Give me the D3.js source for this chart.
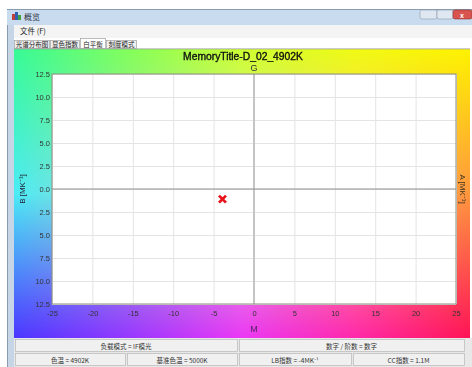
<!DOCTYPE html>
<html><head><meta charset="utf-8">
<script src="https://cdn.jsdelivr.net/npm/d3@7"></script>
<style>
html,body{margin:0;padding:0;background:#fff;overflow:hidden}
#wrap{position:relative;width:472px;height:367px}
canvas,svg{position:absolute;left:0;top:0}
</style></head><body>
<div id="wrap"><canvas id="bg" width="472" height="367"></canvas><svg id="chart" width="472" height="367"></svg></div>
<script>
// ---- data ----
const chartTitle = "MemoryTitle-D_02_4902K";
const xTicks = [-25,-20,-15,-10,-5,0,5,10,15,20,25];
const yTicks = [-12.5,-10,-7.5,-5,-2.5,0,2.5,5,7.5,10,12.5];
const pointM = [-3.9];
const pointB = [-1.1];
const tabs = ["光谱分布图","显色指数","白平衡","刻度模式"];
const statusRow1 = ["负载模式 = IF模光","数字 / 阶数 = 数字"];
const statusRow2 = ["色温 = 4902K","基准色温 = 5000K","LB指数 = -4MK⁻¹","CC指数 = 1.1M"];

// ---- layout ----
const W=472,H=367;
const panel={x0:14,y0:49,x1:470,y1:338};
const plot={x0:52,y0:74,x1:456,y1:304};

// ---- gradient background (canvas) ----
const grid=[
 [[55,250,150],[130,255,90],[205,255,50],[240,250,20],[255,242,0]],
 [[75,235,245],[170,215,200],[220,220,200],[255,190,130],[255,150,60]],
 [[75,55,255],[150,55,255],[235,55,245],[255,40,170],[255,20,85]]
];
const cv=document.getElementById("bg"),ctx=cv.getContext("2d");
const pw=panel.x1-panel.x0,ph=panel.y1-panel.y0;
const img=ctx.createImageData(pw,ph);
for(let j=0;j<ph;j++){
  const fy=j/(ph-1)*(grid.length-1);const r0=Math.min(Math.floor(fy),grid.length-2);const ty=fy-r0;
  for(let i=0;i<pw;i++){
    const fx=i/(pw-1)*(grid[0].length-1);const c0=Math.min(Math.floor(fx),grid[0].length-2);const tx=fx-c0;
    const k=(j*pw+i)*4;
    for(let ch=0;ch<3;ch++){
      const a=grid[r0][c0][ch]*(1-tx)+grid[r0][c0+1][ch]*tx;
      const b=grid[r0+1][c0][ch]*(1-tx)+grid[r0+1][c0+1][ch]*tx;
      img.data[k+ch]=a*(1-ty)+b*ty;
    }
    img.data[k+3]=255;
  }
}
ctx.putImageData(img,panel.x0,panel.y0);

const svg=d3.select("#chart");
const cjk="'Noto Sans CJK SC','Noto Sans',sans-serif";
const lat="'Liberation Sans',Arial,sans-serif";

// ---- window chrome ----
svg.append("rect").attr("x",7).attr("y",9).attr("width",W-7).attr("height",16).attr("fill","#c9dcef");
svg.append("rect").attr("x",7).attr("y",9).attr("width",W-7).attr("height",1).attr("fill","#8a9bb0");
svg.append("rect").attr("x",7).attr("y",25).attr("width",7).attr("height",H-25).attr("fill","#c6d6e6");
svg.append("rect").attr("x",7).attr("y",25).attr("width",1).attr("height",H-25).attr("fill","#8a9bb0");
svg.append("rect").attr("x",14).attr("y",25).attr("width",W-14).attr("height",13).attr("fill","#f4f4f4");
svg.append("rect").attr("x",14).attr("y",38).attr("width",W-14).attr("height",11).attr("fill","#fff");
// icon
svg.append("rect").attr("x",12).attr("y",14).attr("width",3).attr("height",6).attr("fill","#c04040");
svg.append("rect").attr("x",15).attr("y",12).attr("width",3).attr("height",8).attr("fill","#3060b0");
svg.append("rect").attr("x",18).attr("y",15).attr("width",3).attr("height",5).attr("fill","#40a040");
svg.append("text").attr("x",24).attr("y",20).attr("font-family",cjk).attr("font-size",8).attr("fill","#334").text("概览");
// window buttons
svg.append("rect").attr("x",420).attr("y",10).attr("width",17).attr("height",9).attr("rx",2).attr("fill","#dfe7f0").attr("stroke","#8c9cb0").attr("stroke-width",0.6);
svg.append("rect").attr("x",437).attr("y",10).attr("width",16).attr("height",9).attr("rx",2).attr("fill","#dfe7f0").attr("stroke","#8c9cb0").attr("stroke-width",0.6);
svg.append("rect").attr("x",453).attr("y",10).attr("width",19).attr("height",9).attr("rx",2).attr("fill","#d9534f").attr("stroke","#8a3030").attr("stroke-width",0.6);
svg.append("text").attr("x",462).attr("y",17.5).attr("text-anchor","middle").attr("font-family",lat).attr("font-size",7).attr("fill","#fff").attr("font-weight","bold").text("x");
// menu
svg.append("text").attr("x",20).attr("y",34).attr("font-family",cjk).attr("font-size",7.5).attr("fill","#222").text("文件 (F)");
// tabs
const tabX=[14,50,80,106,137];
tabs.forEach((t,i)=>{
  const sel=i===2;
  svg.append("rect").attr("x",tabX[i]+0.5).attr("y",sel?38.5:40.5).attr("width",tabX[i+1]-tabX[i]-1).attr("height",sel?10:8)
    .attr("fill",sel?"#fff":"#f0f0f0").attr("stroke","#a0a0a0").attr("stroke-width",0.7);
  svg.append("text").attr("x",(tabX[i]+tabX[i+1])/2).attr("y",47).attr("text-anchor","middle")
    .attr("font-family",cjk).attr("font-size",6.5).attr("fill","#222").text(t);
});
svg.append("rect").attr("x",panel.x0).attr("y",panel.y0-0.5).attr("width",panel.x1-panel.x0).attr("height",0.8).attr("fill","#999");

// ---- plot ----
const x=d3.scaleLinear().domain([-25,25]).range([plot.x0,plot.x1]);
const y=d3.scaleLinear().domain([-12.5,12.5]).range([plot.y1,plot.y0]);

svg.append("rect").attr("x",plot.x0).attr("y",plot.y0).attr("width",plot.x1-plot.x0).attr("height",plot.y1-plot.y0).attr("fill","#fff");

const gx=svg.append("g").attr("transform",`translate(0,${plot.y1})`)
  .call(d3.axisBottom(x).tickValues(xTicks).tickSize(-(plot.y1-plot.y0)).tickPadding(5).tickFormat(d=>d));
const gy=svg.append("g").attr("transform",`translate(${plot.x0},0)`)
  .call(d3.axisLeft(y).tickValues(yTicks).tickSize(-(plot.x1-plot.x0)).tickPadding(2).tickFormat(d=>Math.abs(d).toFixed(1)));
[gx,gy].forEach(g=>{
  g.select(".domain").remove();
  g.selectAll(".tick line").attr("stroke","#e4e4e4").attr("stroke-width",1);
  g.selectAll(".tick text").attr("font-family",lat).attr("font-size",7.5).attr("fill","#333");
});
gx.selectAll(".tick text").attr("dy","0.9em");
// zero axes
svg.append("line").attr("x1",x(0)).attr("x2",x(0)).attr("y1",plot.y0).attr("y2",plot.y1).attr("stroke","#c4c4c4").attr("stroke-width",2);
svg.append("line").attr("x1",plot.x0).attr("x2",plot.x1).attr("y1",y(0)).attr("y2",y(0)).attr("stroke","#8f8f8f").attr("stroke-width",1.2);
svg.append("rect").attr("x",plot.x0).attr("y",plot.y0).attr("width",plot.x1-plot.x0).attr("height",plot.y1-plot.y0).attr("fill","none").attr("stroke","#8d8d80").attr("stroke-width",1);

// point
const s=3.5;
svg.append("g").selectAll("path").data(pointM.map((m,i)=>[m,pointB[i]])).join("path")
  .attr("d",d=>`M${x(d[0])-s},${y(d[1])-s}L${x(d[0])+s},${y(d[1])+s}M${x(d[0])+s},${y(d[1])-s}L${x(d[0])-s},${y(d[1])+s}`)
  .attr("stroke","#e8141c").attr("stroke-width",2.8).attr("fill","none");

// labels
svg.append("text").attr("x",243).attr("y",60).attr("text-anchor","middle").attr("font-family",lat)
  .attr("font-size",10.3).attr("fill","#111").attr("stroke","#111").attr("stroke-width",0.35).text(chartTitle);
svg.append("text").attr("x",x(0)).attr("y",71).attr("text-anchor","middle").attr("font-family",lat).attr("font-size",9).attr("fill","#333").text("G");
svg.append("text").attr("x",x(0)).attr("y",332).attr("text-anchor","middle").attr("font-family",lat).attr("font-size",9).attr("fill","#552266").text("M");
svg.append("text").attr("transform",`translate(25,${y(0)}) rotate(-90)`).attr("text-anchor","middle")
  .attr("font-family",lat).attr("font-size",8).attr("fill","#223").text("B [MK⁻¹]");
svg.append("text").attr("transform",`translate(460,${y(0)}) rotate(90)`).attr("text-anchor","middle")
  .attr("font-family",lat).attr("font-size",8).attr("fill","#332").text("A [MK⁻¹]");

// ---- status bars ----
svg.append("rect").attr("x",14).attr("y",338).attr("width",W-14).attr("height",H-338).attr("fill","#e8e8e8");
const r1=[[15,237],[239,464]];
statusRow1.forEach((t,i)=>{
  svg.append("rect").attr("x",r1[i][0]+0.5).attr("y",339.5).attr("width",r1[i][1]-r1[i][0]).attr("height",12).attr("fill","#f0f0f0").attr("stroke","#b8b8b8").attr("stroke-width",0.7);
  svg.append("text").attr("x",(r1[i][0]+r1[i][1])/2).attr("y",348.5).attr("text-anchor","middle").attr("font-family",cjk).attr("font-size",6.5).attr("fill","#333").text(t);
});
const r2=[[15,125],[127,237],[239,351],[353,464]];
statusRow2.forEach((t,i)=>{
  svg.append("rect").attr("x",r2[i][0]+0.5).attr("y",353.5).attr("width",r2[i][1]-r2[i][0]).attr("height",12).attr("fill","#f0f0f0").attr("stroke","#b8b8b8").attr("stroke-width",0.7);
  svg.append("text").attr("x",(r2[i][0]+r2[i][1])/2).attr("y",362.5).attr("text-anchor","middle").attr("font-family",cjk).attr("font-size",6.5).attr("fill","#333").text(t);
});
</script></body></html>
